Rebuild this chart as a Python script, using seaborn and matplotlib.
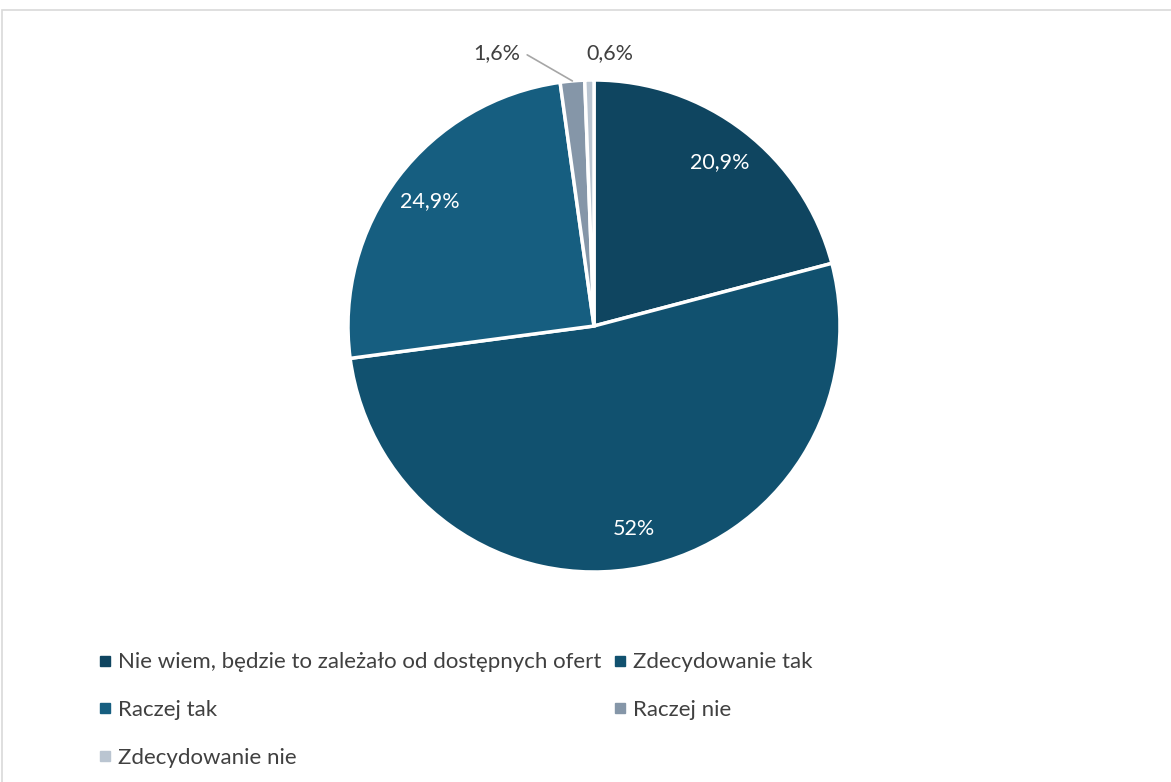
import matplotlib.pyplot as plt
import matplotlib.patches as mpatches
from matplotlib.lines import Line2D
import numpy as np
import seaborn as sns

sns.set_theme(style="white")
plt.rcParams['font.family'] = ['Lato', 'DejaVu Sans']

categories = ['Nie wiem, będzie to zależało od dostępnych ofert', 'Zdecydowanie tak',
              'Raczej tak', 'Raczej nie', 'Zdecydowanie nie']
values = [20.9, 52.0, 24.9, 1.6, 0.6]
colors = ['#0f4560', '#11516f', '#165e80', '#8596a8', '#bac5d1']


def fmt(v):
    s = f'{v:.1f}'.replace('.', ',')
    if s.endswith(',0'):
        s = s[:-2]
    return s + '%'


fig = plt.figure(figsize=(11.71, 7.82), dpi=100)
fig.patches.append(mpatches.Rectangle((2 / 1171, -0.01), 1.01, 1 - 9.5 / 782 + 0.01,
                                      transform=fig.transFigure, fill=False,
                                      edgecolor='#d9d9d9', linewidth=1.2))

cx, cy, r = 594 / 1171, 1 - 326 / 782, 246
ax = fig.add_axes([cx - r / 1171, cy - r / 782, 2 * r / 1171, 2 * r / 782])
wedges, _ = ax.pie(values, colors=colors, startangle=90, counterclock=False,
                   wedgeprops=dict(edgecolor='white', linewidth=2.5))
ax.set_xlim(-1, 1)
ax.set_ylim(-1, 1)

# labels inside the large slices, outside for the thin ones
for w, v in zip(wedges, values):
    mid = np.deg2rad((w.theta1 + w.theta2) / 2)
    if v > 5:
        ax.text(0.84 * np.cos(mid), 0.84 * np.sin(mid), fmt(v), color='white',
                fontsize=15.5, ha='center', va='center')

w = wedges[3]
mid = np.deg2rad((w.theta1 + w.theta2) / 2)
ax.annotate(fmt(values[3]), xy=(np.cos(mid), np.sin(mid)), xytext=(-0.30, 1.11),
            ha='right', va='center', fontsize=15.5, color='#404040',
            arrowprops=dict(arrowstyle='-', color='#a6a6a6', lw=1.2,
                            connectionstyle='angle,angleA=0,angleB=-30,rad=0',
                            shrinkA=3, shrinkB=0),
            annotation_clip=False)
ax.text(-0.03, 1.11, fmt(values[4]), ha='left', va='center', fontsize=15.5, color='#404040')

handles = [Line2D([], [], marker='s', linestyle='', markersize=7, color=c) for c in colors]
order = [0, 2, 4, 1, 3]
fig.legend([handles[i] for i in order], [categories[i] for i in order], ncol=2,
           loc='lower left', bbox_to_anchor=(74 / 1171, -6 / 782), frameon=False,
           fontsize=16, labelcolor='#404040', handletextpad=0.1, handlelength=1.0,
           columnspacing=0.3, labelspacing=1.25)

fig.savefig('out.png', dpi=100)
